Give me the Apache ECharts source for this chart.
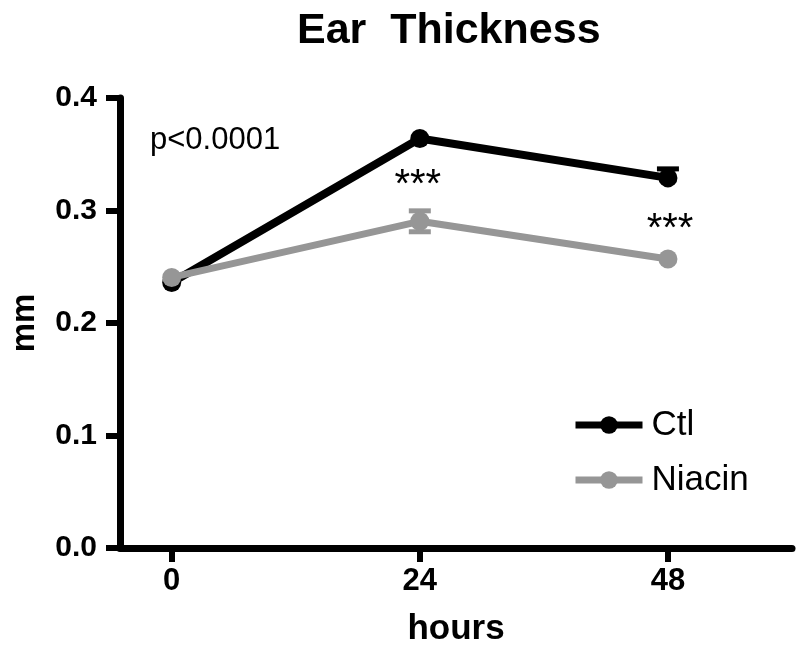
<!DOCTYPE html>
<html>
<head>
<meta charset="utf-8">
<script src="https://cdn.jsdelivr.net/npm/echarts@6/dist/echarts.min.js"></script>
<style>
html,body{margin:0;padding:0;background:#fff;}
#chart{width:800px;height:653px;}
</style>
</head>
<body>
<div id="chart"></div>
<script>
// ---- data ----
const hours = [0, 24, 48];
const ctlValues = [0.236, 0.364, 0.329];
const ctlErrUp = [0, 0, 0.008];
const ctlErrDown = [0, 0, 0];
const niacinValues = [0.2405, 0.2904, 0.2569];
const niacinErrUp = [0, 0.0093, 0];
const niacinErrDown = [0, 0.0093, 0];
const xTicks = [0, 24, 48];
const yTicks = [0, 0.1, 0.2, 0.3, 0.4];
const annotX = [23.8, 48.2, -2.1];
const annotY = [0.3221, 0.2829, 0.3626];
const annotText = ['***', '***', 'p<0.0001'];

const FONT = "'Liberation Sans', Arial, Helvetica, sans-serif";
const BLACK = '#000000';
const GRAY = '#969696';

function pts(vals) { return hours.map((h, i) => [h, vals[i]]); }

function errSeries(name, vals, up, down, color, z) {
  const data = [];
  hours.forEach((h, i) => { if (up[i] || down[i]) data.push([h, vals[i], up[i], down[i]]); });
  return {
    name: name, type: 'custom', z: z, silent: true, data: data,
    encode: { x: 0, y: 1 },
    renderItem: function (params, api) {
      const x = api.value(0), y = api.value(1), u = api.value(2), d = api.value(3);
      const c = api.coord([x, y]);
      const top = api.coord([x, y + u]);
      const bot = api.coord([x, y - d]);
      const hw = 11, lw = 5;
      const st = { stroke: color, lineWidth: lw };
      const ch = [{ type: 'line', shape: { x1: c[0], y1: top[1], x2: c[0], y2: bot[1] }, style: st }];
      if (u) ch.push({ type: 'line', shape: { x1: c[0] - hw, y1: top[1], x2: c[0] + hw, y2: top[1] }, style: st });
      if (d) ch.push({ type: 'line', shape: { x1: c[0] - hw, y1: bot[1], x2: c[0] + hw, y2: bot[1] }, style: st });
      return { type: 'group', children: ch };
    }
  };
}

const chart = echarts.init(document.getElementById('chart'), null, { renderer: 'canvas' });
const option = {
  animation: false,
  backgroundColor: '#ffffff',
  title: {
    text: 'Ear  Thickness',
    left: 292, top: 5,
    textStyle: { fontFamily: FONT, fontWeight: 'bold', fontSize: 43, color: BLACK }
  },
  grid: { left: 114, right: 8, top: 98, bottom: 105, containLabel: false },
  legend: {
    data: ['Ctl', 'Niacin'],
    orient: 'vertical',
    left: 572, top: 407, padding: 0,
    itemWidth: 67, itemHeight: 22,
    itemGap: 19,
    lineStyle: { width: 7 },
    textStyle: { fontFamily: FONT, fontSize: 35, color: BLACK, lineHeight: 36, padding: [0, 0, 0, 4] }
  },
  xAxis: {
    type: 'value', min: -5, max: 60,
    name: 'hours', nameLocation: 'middle', nameGap: 64,
    nameTextStyle: { fontFamily: FONT, fontWeight: 'bold', fontSize: 35, color: BLACK },
    axisLine: { onZero: false, lineStyle: { color: BLACK, width: 7 } },
    axisTick: { show: true, customValues: xTicks, length: 14, lineStyle: { color: BLACK, width: 6 } },
    axisLabel: { customValues: xTicks, margin: 18, fontFamily: FONT, fontWeight: 'bold', fontSize: 31, color: BLACK },
    splitLine: { show: false }
  },
  yAxis: {
    type: 'value', min: 0, max: 0.4, interval: 0.1,
    name: 'mm', nameLocation: 'middle', nameGap: 79,
    nameTextStyle: { fontFamily: FONT, fontWeight: 'bold', fontSize: 33, color: BLACK },
    axisLine: { show: true, onZero: false, lineStyle: { color: BLACK, width: 7 } },
    axisTick: { show: true, customValues: yTicks, length: 14, lineStyle: { color: BLACK, width: 6 } },
    axisLabel: { customValues: yTicks, margin: 23, fontFamily: FONT, fontWeight: 'bold', fontSize: 30, color: BLACK,
      formatter: v => v.toFixed(1) },
    splitLine: { show: false }
  },
  series: [
    errSeries('ctlErr', ctlValues, ctlErrUp, ctlErrDown, BLACK, 1),
    {
      name: 'Ctl', type: 'line', data: pts(ctlValues), z: 2,
      symbol: 'circle', symbolSize: 19,
      lineStyle: { color: BLACK, width: 8 },
      itemStyle: { color: BLACK }
    },
    errSeries('niacinErr', niacinValues, niacinErrUp, niacinErrDown, GRAY, 3),
    {
      name: 'Niacin', type: 'line', data: pts(niacinValues), z: 4,
      symbol: 'circle', symbolSize: 19,
      lineStyle: { color: GRAY, width: 7 },
      itemStyle: { color: GRAY }
    },
    {
      name: 'annot', type: 'scatter', symbolSize: 0, silent: true, z: 5,
      itemStyle: { opacity: 1, color: BLACK },
      data: annotX.map((x, i) => ({
        value: [x, annotY[i]],
        label: {
          show: true, position: 'inside', formatter: annotText[i],
          align: i === 2 ? 'left' : 'center', verticalAlign: 'middle',
          fontFamily: FONT, fontSize: i === 2 ? 31 : 40, color: BLACK, opacity: 1,
          textBorderWidth: 0
        }
      }))
    }
  ]
};
chart.setOption(option);
</script>
</body>
</html>
